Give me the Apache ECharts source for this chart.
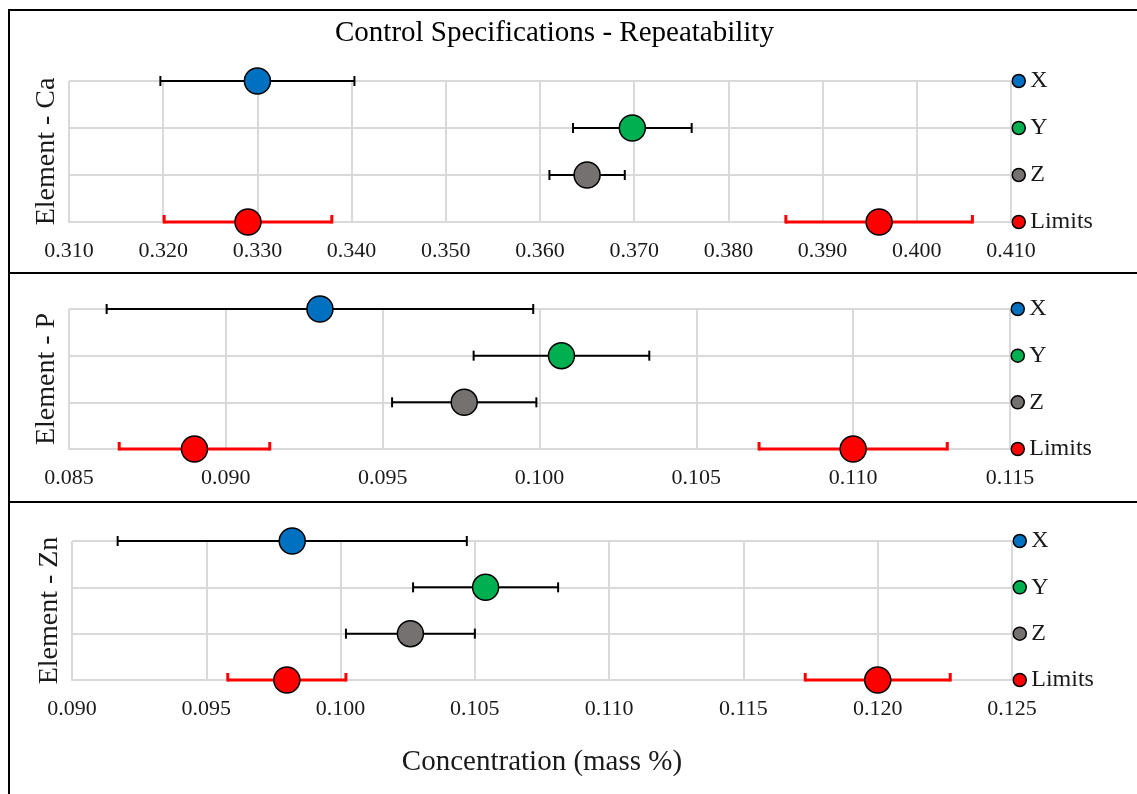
<!DOCTYPE html>
<html>
<head>
<meta charset="utf-8">
<style>
  html, body { margin: 0; padding: 0; background: #fff; }
  #chart { width: 1137px; height: 794px; }
</style>
<script src="https://cdn.jsdelivr.net/npm/echarts@6/dist/echarts.min.js"></script>
</head>
<body>
<div id="chart"></div>
<script>
// ---------- data ----------
const categories = ['X', 'Y', 'Z', 'Limits'];
const sampleNames = ['X', 'Y', 'Z'];
const panelNames = ['Element - Ca', 'Element - P', 'Element - Zn'];

// Ca
const caMeans = [0.3300, 0.3698, 0.3650];
const caErrors = [0.0103, 0.0063, 0.0040];
const caLimits = [0.3290, 0.3960];
const caLimitErrors = [0.0089, 0.0099];
const caAxis = [0.310, 0.410, 0.010];   // min, max, interval

// P
const pMeans = [0.0930, 0.1007, 0.0976];
const pErrors = [0.0068, 0.0028, 0.0023];
const pLimits = [0.0890, 0.1100];
const pLimitErrors = [0.0024, 0.0030];
const pAxis = [0.085, 0.115, 0.005];

// Zn
const znMeans = [0.0982, 0.1054, 0.1026];
const znErrors = [0.0065, 0.0027, 0.0024];
const znLimits = [0.0980, 0.1200];
const znLimitErrors = [0.0022, 0.0027];
const znAxis = [0.090, 0.125, 0.005];

const xAxisTitle = 'Concentration (mass %)';
const chartTitle = 'Control Specifications - Repeatability';

// ---------- style ----------
const serif = '"Liberation Serif", "Times New Roman", serif';
const seriesColors = { X: '#0070C0', Y: '#00B050', Z: '#767171', Limits: '#FF0000' };
const gridColor = '#D9D9D9';
const textColor = '#1a1a1a';

const panels = [
  { means: caMeans, errs: caErrors, lims: caLimits, limErrs: caLimitErrors, axis: caAxis },
  { means: pMeans, errs: pErrors, lims: pLimits, limErrs: pLimitErrors, axis: pAxis },
  { means: znMeans, errs: znErrors, lims: znLimits, limErrs: znLimitErrors, axis: znAxis }
];

const grids = [
  { left: 69, width: 942, top: 81, height: 141 },
  { left: 69, width: 941, top: 309, height: 140 },
  { left: 72, width: 940, top: 541, height: 139 }
];

function errorBarRenderer(color, lineW, capUp, capDown) {
  return function (params, api) {
    const yi = api.value(2);
    const a = api.coord([api.value(0), yi]);
    const b = api.coord([api.value(1), yi]);
    const style = { stroke: color, lineWidth: lineW, fill: null };
    return {
      type: 'group',
      children: [
        { type: 'line', shape: { x1: a[0], y1: a[1], x2: b[0], y2: b[1] }, style: style },
        { type: 'line', shape: { x1: a[0], y1: a[1] - capUp, x2: a[0], y2: a[1] + capDown }, style: style },
        { type: 'line', shape: { x1: b[0], y1: b[1] - capUp, x2: b[0], y2: b[1] + capDown }, style: style }
      ]
    };
  };
}

const xAxes = [], yAxes = [], scatterSeries = [], barSeries = [], legends = [];

panels.forEach(function (p, i) {
  xAxes.push({
    type: 'value', gridIndex: i,
    min: p.axis[0], max: p.axis[1], interval: p.axis[2],
    axisLine: { show: true, lineStyle: { color: gridColor, width: 2 } },
    axisTick: { show: false },
    axisLabel: {
      formatter: function (v) { return v.toFixed(3); },
      fontFamily: serif, fontSize: 22, color: textColor, margin: 18
    },
    splitLine: { show: true, lineStyle: { color: gridColor, width: 2 } },
    name: i === 2 ? xAxisTitle : '',
    nameLocation: 'middle', nameGap: 68,
    nameTextStyle: { fontFamily: serif, fontSize: 29, color: textColor }
  });
  yAxes.push({
    type: 'category', gridIndex: i, data: categories, inverse: true, boundaryGap: false,
    axisLine: { show: false }, axisTick: { show: false }, axisLabel: { show: false },
    splitLine: { show: true, lineStyle: { color: gridColor, width: 2 } },
    name: panelNames[i], nameLocation: 'middle', nameRotate: 90, nameGap: 8,
    nameTextStyle: { fontFamily: serif, fontSize: 28, color: textColor }
  });

  sampleNames.forEach(function (n, k) {
    scatterSeries.push({
      name: n, type: 'scatter', xAxisIndex: i, yAxisIndex: i, z: 4,
      symbolSize: 26,
      itemStyle: { color: seriesColors[n], borderColor: '#000', borderWidth: 1.5, opacity: 1 },
      data: [[p.means[k], k]]
    });
    barSeries.push({
      name: n, type: 'custom', xAxisIndex: i, yAxisIndex: i, z: 3,
      renderItem: errorBarRenderer('#000', 2, 5, 5),
      encode: { x: [0, 1], y: 2 },
      data: [[p.means[k] - p.errs[k], p.means[k] + p.errs[k], k]]
    });
  });
  scatterSeries.push({
    name: 'Limits', type: 'scatter', xAxisIndex: i, yAxisIndex: i, z: 4,
    symbolSize: 26,
    itemStyle: { color: seriesColors.Limits, borderColor: '#000', borderWidth: 1.5, opacity: 1 },
    data: p.lims.map(function (v) { return [v, 3]; })
  });
  barSeries.push({
    name: 'Limits', type: 'custom', xAxisIndex: i, yAxisIndex: i, z: 3,
    renderItem: errorBarRenderer('#FF0000', 3, 7, 1.5),
    encode: { x: [0, 1], y: 2 },
    data: p.lims.map(function (v, k) { return [v - p.limErrs[k], v + p.limErrs[k], 3]; })
  });

  const g = grids[i];
  const step = g.height / (categories.length - 1);
  legends.push({
    orient: 'vertical', left: g.left + g.width + 0.5, top: g.top - 12,
    itemGap: step - 24, itemWidth: 13, itemHeight: 13, padding: 0,
    icon: 'circle', data: categories,
    itemStyle: { borderColor: '#000', borderWidth: 1.5 },
    textStyle: { fontFamily: serif, fontSize: 24, lineHeight: 24, color: textColor }
  });
});

const chart = echarts.init(document.getElementById('chart'), null, { renderer: 'canvas' });
chart.setOption({
  animation: false,
  backgroundColor: '#fff',
  title: {
    text: chartTitle, left: 335, top: 19, padding: 0,
    textStyle: { fontFamily: serif, fontSize: 29, fontWeight: 'normal', color: '#000' }
  },
  grid: grids,
  xAxis: xAxes,
  yAxis: yAxes,
  legend: legends,
  series: scatterSeries.concat(barSeries),
  graphic: [
    { type: 'line', silent: true, shape: { x1: 8, y1: 10, x2: 1137, y2: 10 }, style: { stroke: '#000', lineWidth: 2 } },
    { type: 'line', silent: true, shape: { x1: 9, y1: 9, x2: 9, y2: 794 }, style: { stroke: '#000', lineWidth: 2 } },
    { type: 'line', silent: true, shape: { x1: 8, y1: 273, x2: 1137, y2: 273 }, style: { stroke: '#000', lineWidth: 2 } },
    { type: 'line', silent: true, shape: { x1: 8, y1: 502, x2: 1137, y2: 502 }, style: { stroke: '#000', lineWidth: 2 } }
  ]
});
</script>
</body>
</html>
